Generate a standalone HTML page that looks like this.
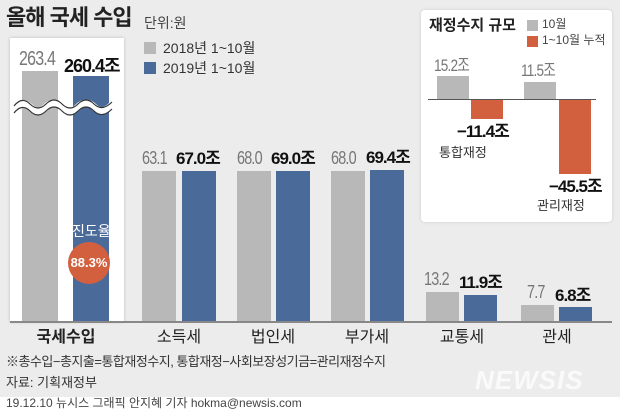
<!DOCTYPE html>
<html><head><meta charset="utf-8"><style>
body{margin:0;width:620px;height:410px;background:#ececec;position:relative;overflow:hidden;font-family:"Liberation Sans","Noto Sans CJK KR",sans-serif;color:#222}
div{position:absolute}
.g{background:#b8b8b8}.b{background:#4a6a9a}.o{background:#d2603f}
.t{white-space:nowrap;line-height:1}
.lv{font-size:18px;color:#777;letter-spacing:-1px;transform:scaleX(.8);transform-origin:left top}
.lb{font-size:17px;font-weight:bold;color:#111;letter-spacing:-1px}
.cat{font-size:16px;color:#222;width:100px;text-align:center}
</style></head><body>
<div class="t" style="left:6px;top:7px;font-size:22px;font-weight:bold;color:#222;letter-spacing:-1px">올해 국세 수입</div>
<div class="t" style="left:144px;top:16px;font-size:14px;color:#444">단위:원</div>
<div class="g" style="left:144px;top:42px;width:12px;height:12px"></div>
<div class="t" style="left:163px;top:41px;font-size:14px;color:#333">2018년 1~10월</div>
<div class="b" style="left:144px;top:62px;width:12px;height:12px"></div>
<div class="t" style="left:163px;top:61px;font-size:14px;color:#333">2019년 1~10월</div>

<div style="left:10px;top:38px;width:114px;height:284px;background:#fff;box-shadow:0 0 3px #bbb"></div>
<div class="g" style="left:22px;top:71px;width:36px;height:251px"></div>
<div class="b" style="left:73px;top:76px;width:36px;height:246px"></div>
<svg style="position:absolute;left:12px;top:98px" width="106" height="18"><path d="M2 11 Q10 1 18 9 T34 9 T50 9 T66 9 T82 9 T100 7" stroke="#fff" stroke-width="7" fill="none"/><path d="M2 7 Q10 -3 18 5 T34 5 T50 5 T66 5 T82 5 T100 3" stroke="#333" stroke-width="1.2" fill="none" transform="translate(0,1)"/><path d="M2 14 Q10 4 18 12 T34 12 T50 12 T66 12 T82 12 T100 10" stroke="#333" stroke-width="1.2" fill="none" transform="translate(0,1)"/></svg>
<div class="t lv" style="left:19px;top:49px;font-size:20px">263.4</div>
<div class="t lb" style="left:64px;top:57px;font-size:18px">260.4조</div>
<div class="t" style="left:72px;top:224px;font-size:14px;color:#fff">진도율</div>
<div class="o" style="left:68px;top:242px;width:42px;height:42px;border-radius:50%"></div>
<div class="t" style="left:68px;top:256px;width:42px;text-align:center;font-size:13px;font-weight:bold;color:#fff">88.3%</div>

<div class="g" style="left:142px;top:171px;width:34px;height:151px"></div>
<div class="b" style="left:182px;top:171px;width:34px;height:151px"></div>
<div class="t lv" style="left:142px;top:149px">63.1</div><div class="t lb" style="left:176px;top:150px">67.0조</div>
<div class="g" style="left:237px;top:171px;width:34px;height:151px"></div>
<div class="b" style="left:276px;top:171px;width:34px;height:151px"></div>
<div class="t lv" style="left:237px;top:149px">68.0</div><div class="t lb" style="left:271px;top:150px">69.0조</div>
<div class="g" style="left:331px;top:171px;width:34px;height:151px"></div>
<div class="b" style="left:370px;top:170px;width:34px;height:152px"></div>
<div class="t lv" style="left:331px;top:149px">68.0</div><div class="t lb" style="left:366px;top:149px">69.4조</div>
<div class="g" style="left:426px;top:292px;width:33px;height:30px"></div>
<div class="b" style="left:464px;top:295px;width:33px;height:27px"></div>
<div class="t lv" style="left:424px;top:270px">13.2</div><div class="t lb" style="left:459px;top:274px">11.9조</div>
<div class="g" style="left:521px;top:305px;width:33px;height:17px"></div>
<div class="b" style="left:559px;top:307px;width:33px;height:15px"></div>
<div class="t lv" style="left:527px;top:283px">7.7</div><div class="t lb" style="left:555px;top:287px">6.8조</div>
<div style="left:10px;top:321px;width:602px;height:2px;background:#888"></div>

<div class="t cat" style="left:16px;top:330px;font-weight:bold">국세수입</div>
<div class="t cat" style="left:129px;top:330px">소득세</div>
<div class="t cat" style="left:223px;top:330px">법인세</div>
<div class="t cat" style="left:317px;top:330px">부가세</div>
<div class="t cat" style="left:412px;top:330px">교통세</div>
<div class="t cat" style="left:507px;top:330px">관세</div>

<div class="t" style="left:6px;top:355px;font-size:13px;color:#333;letter-spacing:-.5px">※총수입−총지출=통합재정수지, 통합재정−사회보장성기금=관리재정수지</div>
<div class="t" style="left:6px;top:376px;font-size:13px;color:#333">자료: 기획재정부</div>
<div class="t" style="left:475px;top:367px;font-size:26px;font-weight:bold;font-style:italic;color:#fafafa;letter-spacing:1px">NEWSIS</div>
<div style="left:0;top:397px;width:620px;height:13px;background:#fff"></div>
<div class="t" style="left:6px;top:397px;font-size:12px;color:#444">19.12.10 뉴시스 그래픽 안지혜 기자 hokma@newsis.com</div>

<div style="left:421px;top:10px;width:191px;height:212px;background:#fff;border-radius:4px;box-shadow:0 0 3px #ccc"></div>
<div class="t" style="left:429px;top:18px;font-size:15px;font-weight:bold;color:#222">재정수지 규모</div>
<div class="g" style="left:527px;top:20px;width:11px;height:11px"></div>
<div class="t" style="left:542px;top:18px;font-size:12px;color:#444">10월</div>
<div class="o" style="left:527px;top:36px;width:11px;height:11px"></div>
<div class="t" style="left:542px;top:34px;font-size:12px;color:#444">1~10월 누적</div>
<div class="g" style="left:437px;top:76px;width:32px;height:24px"></div>
<div class="o" style="left:471px;top:100px;width:32px;height:19px"></div>
<div class="g" style="left:524px;top:82px;width:32px;height:18px"></div>
<div class="o" style="left:559px;top:100px;width:32px;height:74px"></div>
<div style="left:428px;top:99px;width:168px;height:1px;background:#555"></div>
<div class="t lv" style="left:434px;top:57px;font-size:17px">15.2조</div>
<div class="t lv" style="left:521px;top:62px;font-size:17px">11.5조</div>
<div class="t lb" style="left:457px;top:123px">−11.4조</div>
<div class="t lb" style="left:549px;top:178px">−45.5조</div>
<div class="t" style="left:439px;top:146px;font-size:13px;color:#333">통합재정</div>
<div class="t" style="left:537px;top:199px;font-size:13px;color:#333">관리재정</div>
</body></html>
